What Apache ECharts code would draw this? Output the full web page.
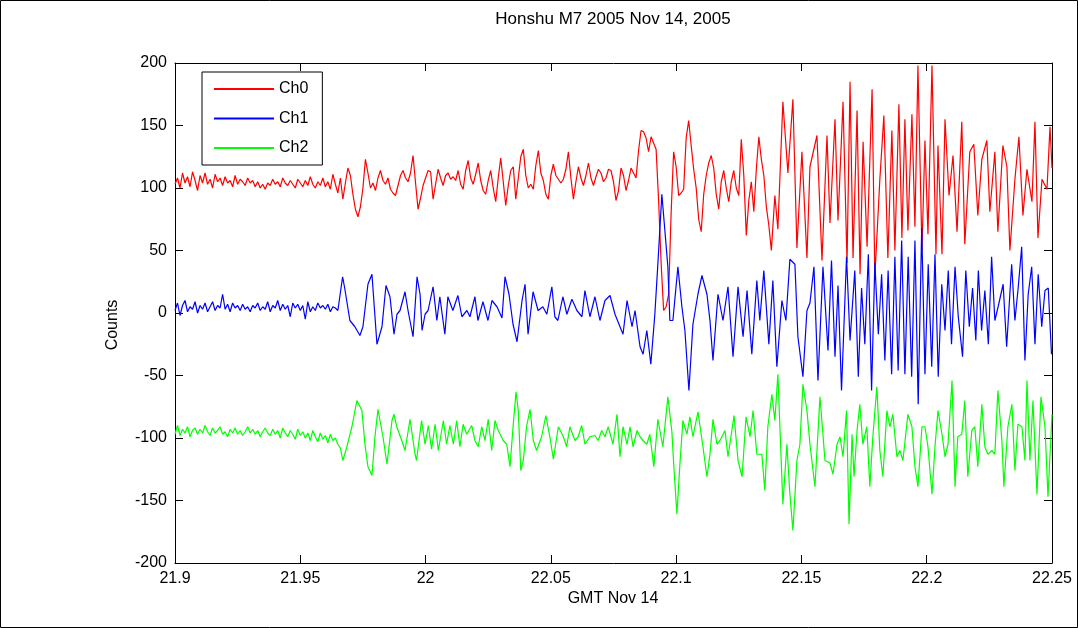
<!DOCTYPE html>
<html><head><meta charset="utf-8">
<script src="https://cdn.jsdelivr.net/npm/echarts@6/dist/echarts.min.js"></script>
<style>html,body{margin:0;padding:0;background:#fff}#c{width:1078px;height:628px}</style>
</head><body><div id="c"></div>
<script>
// time origin (GMT hours) and unit of the sample index k (k is in thousandths of an hour after T0)
const T0 = 21.9;
const K_UNIT = 0.001;
const titleText = 'Honshu M7 2005 Nov 14, 2005';
const xName = 'GMT Nov 14';
const yName = 'Counts';
const seriesNames = ['Ch0', 'Ch1', 'Ch2'];
const xTicks = [21.9, 21.95, 22, 22.05, 22.1, 22.15, 22.2, 22.25];
const yTicks = [-200, -150, -100, -50, 0, 50, 100, 150, 200];

// Ch0: evenly sampled part (k = 0,1,2,...) then hand-read peaks/troughs [k, value]
const ch0_even = [
103,108,100,112,104,109,101,113,106,98,
110,104,112,103,107,100,111,105,108,102,
109,104,106,101,110,103,107,105,102,108,
104,106,101,105,100,103,99,104,102,107,
103,105,101,108,104,102,106,103,100,107,
104,101,106,102,109,103,100,105,102,108,
101,105,99,111,103,96,108,91,104,116,
110,95,83,77,85,100,123,112,100,104,
98,108,114,106,103,108,99,96,94,102,
110,114,108,105,112,126,104,83,92,102,
108,114,113,91,103,115,108,102,110,112,
107,109,106,114,103,99,114,122,108,103,
111,120,106,98,95,106,114,100,89,108,
124,105,86,102,114,117,91,108,125,131,
110,100,103,99,118,130,112,106,95,91,
110,119,110,107,104,107,115,129,108,91,
105,117,108,102,110,120,108,102,109,115,
112,105,108,115,114,105,90,98,116,110,
98,106,116,112,108,130,146,145,140,129,
141,136,131,90,40,2,5,15,80,129,
117,94,96,99,140,154,134,115,100,75,
65,95,110,120,126,116,95,83,105,114,
100,89,105,114,100,94,139,110,62,90,
105,81,115,141,123,110,85,70,50
];
const ch0_peaks = [
[239.4,94],[240.6,67],[242.6,169],[244.6,112],[246.6,171],[248.2,52],[250.2,129],[252.2,44],[253.4,117],[256.2,142],
[258.2,42],[260.2,142],[261.4,72],[263.4,155],[264.6,74],[266.6,169],[268.2,40],[269.4,185],[270.6,44],[272.2,162],
[273.4,31],[274.6,137],[276.2,53],[278.2,179],[279.3,29],[281.3,107],[282.9,158],[284.5,44],[286.1,146],[287.3,50],
[288.9,167],[290.1,60],[291.3,155],[292.5,66],[294.1,159],[295.3,69],[296.5,198],[298.1,50],[299.3,138],[300.5,63],
[302.1,198],[303.7,47],[304.5,134],[306.1,47],[307.3,155],[308.9,94],[310.5,126],[312.1,65],[314.0,153],[315.2,55],
[317.2,129],[318.8,135],[320.4,78],[322.0,123],[324.0,138],[325.2,81],[327.2,129],[328.4,65],[330.4,134],[332.0,117],
[333.2,50],[335.2,107],[336.8,141],[338.4,78],[340.0,115],[342.0,89],[343.2,153],[344.4,60],[346.0,107],[348.0,99],
[349.2,149],[350,116]
];

const ch1_even = [
2,8,-2,6,10,1,5,3,9,0,
6,3,8,1,5,9,2,6,4,15,
3,7,1,8,4,6,2,7,3,5,
1,6,4,8,2,5,3,9,1,6,
4,10,2,7,3,6,-3,8,4,7,
2,6,-5,9,1,5,2,8,4,6,
3,7,1,5,4,2
];
const ch1_peaks = [
[66.9,29],[67.8,19],[69.8,-6],[71.8,-11],[73.8,-18],[75.0,-11],[77.0,23],[78.6,31],[80.6,-25],[82.6,-11],
[84.2,22],[85.8,13],[87.4,-17],[88.6,-1],[89.8,2],[91.8,17],[93.0,2],[95.0,-19],[96.6,29],[97.8,15],
[98.6,-14],[99.8,-1],[101.0,2],[103.0,21],[104.5,-6],[105.7,13],[107.7,-17],[108.9,13],[110.9,2],[112.9,14],
[114.5,-3],[116.5,2],[117.7,-3],[119.7,13],[120.9,-6],[122.9,9],[124.9,-6],[126.5,10],[128.5,5],[130.5,-4],
[131.7,29],[133.3,15],[134.9,-9],[136.5,-23],[138.5,10],[139.7,23],[140.9,-17],[142.9,17],[144.9,2],[146.8,5],
[148.4,-1],[150.4,21],[151.6,-3],[152.8,-6],[154.8,13],[156.4,-1],[158.4,11],[160.4,2],[162.4,-3],[163.6,18],
[165.6,-3],[167.6,13],[169.6,-6],[171.6,10],[173.6,14],[175.6,-1],[178.8,-17],[180.4,10],[182.4,-11],[183.6,2],
[185.6,-27],[186.8,-33],[188.3,-14],[189.9,-41],[191.5,-1],[192.7,39],[194.3,95],[195.5,66],[196.7,37],[197.5,-6],
[198.7,-6],[200.7,37],[202.3,5],[203.5,-14],[205.1,-62],[206.7,-9],[208.7,15],[210.3,30],[212.3,15],[213.5,-6],
[214.7,-38],[216.7,15],[218.7,-6],[220.7,21],[222.7,-35],[224.7,21],[226.7,-19],[228.3,18],[230.2,-33],[232.2,26],
[233.4,-6],[235.0,34],[237.0,-25],[238.6,26],[240.2,-43],[242.2,10],[243.8,-6],[245.4,43],[247.4,39],[248.6,-19],
[250.6,-51],[252.2,2],[253.4,8],[255.0,37],[256.6,-54],[258.6,37],[260.6,-30],[262.0,42],[263.4,-35],[264.6,22],
[266.0,-62],[268.0,45],[269.4,-22],[271.3,34],[272.7,-51],[274.0,20],[275.3,-25],[276.7,47],[278.0,-62],[279.3,40],
[280.7,-17],[282.0,31],[283.3,-38],[284.6,34],[286.0,-49],[287.3,45],[288.6,-46],[290.0,58],[291.3,-49],[292.6,45],
[294.0,-51],[295.3,58],[296.6,-73],[298.0,68],[299.3,-49],[300.6,39],[302.0,-43],[303.3,47],[304.6,-51],[306.0,23],
[307.3,-14],[308.6,34],[309.9,-25],[311.3,37],[312.6,-3],[314.3,-35],[315.6,34],[317.0,-11],[318.3,20],[319.6,-22],
[320.6,34],[321.9,-14],[323.2,18],[324.6,-25],[325.9,45],[327.2,-6],[328.5,5],[330.5,23],[331.9,-27],[333.9,39],
[335.2,-6],[336.5,20],[337.9,53],[339.2,-38],[340.5,15],[341.9,37],[343.2,-25],[344.5,31],[345.9,-11],[347.2,18],
[348.5,20],[349.8,-33],[350,-30]
];

const ch2_even = [
-97,-90,-98,-93,-96,-91,-99,-94,-92,-97,
-93,-96,-90,-95,-98,-92,-96,-94,-91,-97,
-95,-99,-93,-96,-92,-97,-94,-98,-95,-91,
-96,-93,-97,-94,-99,-95,-92,-96,-98,-93,
-97,-94,-100,-92,-96,-99,-94,-97,-101,-93,
-98,-95,-100,-96,-102,-94,-99,-103,-96,-101,
-98,-104,-97,-102,-100,-105,-108,-118
];
const ch2_peaks = [
[68.6,-107],[70.6,-91],[72.6,-70],[74.6,-78],[75.8,-105],[77.0,-123],[78.6,-130],[79.8,-99],[81.0,-77],[83.0,-99],
[84.6,-121],[86.6,-86],[87.4,-81],[88.5,-91],[90.5,-102],[91.8,-110],[93.8,-85],[95.8,-113],[96.4,-118],[98.4,-86],
[99.8,-105],[101.1,-90],[102.4,-109],[103.8,-89],[105.1,-110],[107.1,-86],[108.4,-105],[109.7,-90],[111.1,-105],[112.4,-86],
[113.7,-107],[115.0,-89],[116.4,-97],[118.4,-90],[119.7,-102],[121.0,-107],[122.4,-91],[123.7,-102],[125.0,-85],[126.4,-110],
[127.7,-86],[129.0,-94],[131.0,-102],[132.4,-105],[133.7,-123],[135.0,-89],[136.1,-63],[137.0,-78],[138.0,-126],[139.0,-118],
[140.3,-91],[141.7,-77],[143.0,-102],[144.3,-110],[146.3,-99],[148.0,-82],[149.6,-99],[151.0,-117],[153.0,-91],[155.0,-99],
[156.3,-107],[157.6,-91],[159.6,-102],[160.9,-99],[162.3,-90],[163.6,-105],[165.6,-99],[167.6,-98],[168.9,-102],[170.3,-94],
[171.6,-99],[172.9,-91],[174.8,-105],[176.4,-81],[177.6,-115],[178.8,-91],[180.4,-105],[181.6,-91],[182.8,-107],[184.4,-94],
[185.6,-99],[186.8,-102],[188.3,-105],[189.5,-97],[191.1,-123],[192.7,-85],[194.7,-107],[196.7,-67],[198.3,-95],[199.0,-120],
[200.3,-161],[201.5,-121],[202.7,-86],[204.3,-97],[205.5,-83],[206.7,-99],[208.7,-79],[210.7,-107],[212.3,-131],[213.5,-113],
[214.7,-85],[216.3,-105],[217.5,-102],[219.5,-94],[220.7,-115],[223.1,-82],[224.7,-118],[226.3,-131],[227.9,-83],[229.5,-99],
[230.7,-78],[232.2,-113],[234.2,-113],[235.4,-142],[236.6,-91],[238.2,-65],[239.4,-86],[240.6,-49],[242.6,-153],[244.2,-105],
[245.4,-145],[246.6,-174],[248.2,-118],[249.4,-105],[250.6,-57],[252.2,-78],[253.4,-105],[255.4,-139],[257.4,-67],[259.4,-118],
[261.4,-120],[262.6,-129],[264.2,-105],[265.4,-99],[266.6,-115],[268.0,-78],[269.0,-169],[270.2,-97],[271.0,-131],[272.2,-94],
[273.3,-73],[274.5,-105],[276.1,-91],[277.3,-139],[278.5,-99],[280.1,-59],[281.3,-110],[282.5,-131],[284.1,-78],[285.3,-91],
[286.5,-81],[288.1,-115],[289.3,-110],[290.5,-118],[292.5,-81],[294.1,-91],[295.3,-123],[296.5,-139],[298.1,-91],[299.3,-91],
[300.5,-107],[302.1,-145],[303.3,-107],[304.5,-78],[306.1,-97],[307.3,-115],[308.5,-105],[310.1,-54],[311.3,-139],[312.4,-99],
[314.0,-97],[315.2,-70],[316.4,-131],[318.0,-94],[319.2,-91],[320.4,-123],[322.0,-73],[323.2,-107],[324.4,-113],[326.0,-110],
[327.2,-113],[328.4,-62],[330.0,-102],[330.8,-139],[332.4,-91],[334.0,-73],[335.2,-126],[336.4,-89],[338.0,-91],[339.2,-118],
[340.0,-54],[341.2,-118],[342.4,-70],[344.0,-145],[345.6,-67],[347.2,-91],[348.4,-147],[350.0,-81]
];

const colors = ['#ff0000', '#0000ff', '#00ff00'];
const FONT = '"Liberation Sans", Arial, sans-serif';
const FS = 16;

function build(even, peaks) {
  const out = even.map((v, k) => [T0 + k * K_UNIT, v]);
  peaks.forEach(([k, v]) => out.push([T0 + k * K_UNIT, v]));
  return out;
}
const seriesData = [build(ch0_even, ch0_peaks), build(ch1_even, ch1_peaks), build(ch2_even, ch2_peaks)];

const xMin = xTicks[0], xMax = xTicks[xTicks.length - 1], xInt = 0.05;
const yMin = yTicks[0], yMax = yTicks[yTicks.length - 1], yInt = 50;
const fmtX = v => String(+(+v).toFixed(2));

function axisCommon(showLabel, fmt) {
  const lab = { show: showLabel, color: '#000', fontSize: FS, fontFamily: FONT, margin: 8 };
  if (fmt) lab.formatter = fmt;
  return {
    axisLine: { show: true, onZero: false, lineStyle: { color: '#000', width: 1 } },
    axisTick: { show: true, inside: true, length: 8, lineStyle: { color: '#000' } },
    splitLine: { show: false },
    axisLabel: lab
  };
}

const chart = echarts.init(document.getElementById('c'), null, { renderer: 'canvas' });
chart.setOption({
  animation: false,
  backgroundColor: '#fff',
  grid: { left: 175, right: 26, top: 63, bottom: 65, containLabel: false },
  xAxis: [
    Object.assign({ type: 'value', position: 'bottom', min: xMin, max: xMax, interval: xInt }, axisCommon(true, fmtX)),
    Object.assign({ type: 'value', position: 'top', min: xMin, max: xMax, interval: xInt }, axisCommon(false))
  ],
  yAxis: [
    Object.assign({ type: 'value', position: 'left', min: yMin, max: yMax, interval: yInt }, axisCommon(true)),
    Object.assign({ type: 'value', position: 'right', min: yMin, max: yMax, interval: yInt }, axisCommon(false))
  ],
  legend: {
    orient: 'vertical', left: 202, top: 72,
    itemWidth: 60, itemHeight: 14, itemGap: 13.5,
    padding: [9, 14, 9, 11],
    borderColor: '#000', borderWidth: 1, backgroundColor: '#fff',
    itemStyle: { opacity: 0 },
    textStyle: { fontSize: FS, color: '#000', fontFamily: FONT },
    data: seriesNames
  },
  series: seriesNames.map((n, i) => ({
    name: n, type: 'line', xAxisIndex: 0, yAxisIndex: 0,
    data: seriesData[i], symbol: 'none', showSymbol: false,
    lineStyle: { color: colors[i], width: 1.2 }, itemStyle: { color: colors[i] },
    clip: true
  })),
  graphic: [
    { type: 'rect', shape: { x: 0.5, y: 0.5, width: 1077, height: 627 }, style: { fill: 'none', stroke: '#000', lineWidth: 1 }, silent: true },
    { type: 'text', x: 613, y: 19, style: { text: titleText, fill: '#000', font: '17px ' + FONT, textAlign: 'center', textVerticalAlign: 'middle' } },
    { type: 'text', x: 613, y: 599, style: { text: xName, fill: '#000', font: FS + 'px ' + FONT, textAlign: 'center', textVerticalAlign: 'middle' } },
    { type: 'text', x: 113, y: 325, rotation: Math.PI / 2, style: { text: yName, fill: '#000', font: FS + 'px ' + FONT, textAlign: 'center', textVerticalAlign: 'middle' } }
  ]
});
</script>
</body></html>
